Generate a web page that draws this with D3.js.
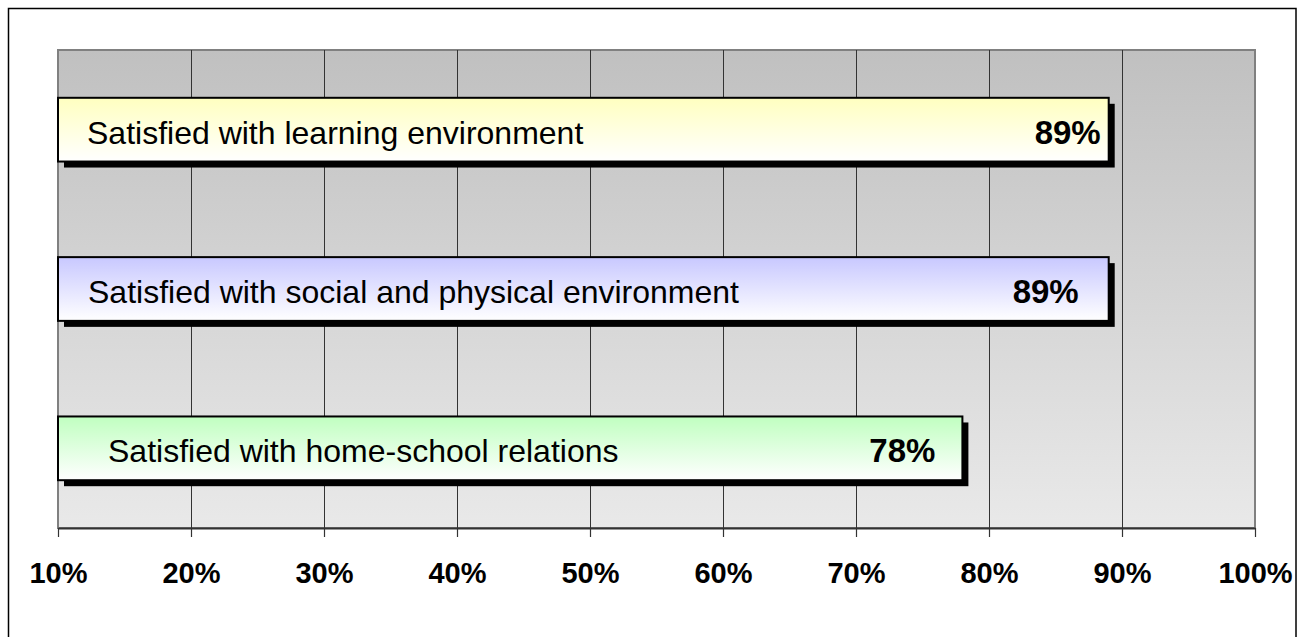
<!DOCTYPE html>
<html>
<head>
<meta charset="utf-8">
<script src="https://cdn.jsdelivr.net/npm/d3@7"></script>
<style>
  html, body { margin: 0; padding: 0; background: #fff; }
  svg { display: block; font-family: "Liberation Sans", Arial, sans-serif; }
</style>
</head>
<body>
<svg id="chart" width="1301" height="637"></svg>
<script>
// Survey results: share of respondents satisfied in each area
const categories = [
  "Satisfied with learning environment",
  "Satisfied with social and physical environment",
  "Satisfied with home-school relations"
];
const values = [0.89, 0.89, 0.78];
const tickValues = [0.1, 0.2, 0.3, 0.4, 0.5, 0.6, 0.7, 0.8, 0.9, 1.0];

// Text-box placement inside each bar (left inset of name, right inset of value)
const nameInset = [29, 30, 50];
const valueInset = [8, 30, 27];
const barColors = ["#ffffc0", "#c8c8ff", "#c0ffc0"];

const svg = d3.select("#chart");
const W = 1301, H = 637;
const plot = { left: 58, right: 1255, top: 50, bottom: 528 };

// chart frame
svg.append("rect")
  .attr("x", 8.5).attr("y", 8.5)
  .attr("width", 1296 - 8.5).attr("height", H + 10)
  .attr("fill", "#fff").attr("stroke", "#000").attr("stroke-width", 1.5);

const defs = svg.append("defs");
const bg = defs.append("linearGradient").attr("id", "plotBg")
  .attr("x1", 0).attr("y1", 0).attr("x2", 0).attr("y2", 1);
bg.append("stop").attr("offset", "0%").attr("stop-color", "#c0c0c0");
bg.append("stop").attr("offset", "100%").attr("stop-color", "#e9e9e9");

barColors.forEach((c, i) => {
  const g = defs.append("linearGradient").attr("id", "barFill" + i)
    .attr("x1", 0).attr("y1", 0).attr("x2", 0).attr("y2", 1);
  g.append("stop").attr("offset", "0%").attr("stop-color", c);
  g.append("stop").attr("offset", "100%").attr("stop-color", "#ffffff");
});

const x = d3.scaleLinear().domain([0.1, 1.0]).range([plot.left, plot.right]);
const y = d3.scaleBand().domain(categories)
  .range([plot.top, plot.bottom])
  .paddingInner(0.6).paddingOuter(0.3);

// plot area
svg.append("rect")
  .attr("x", plot.left).attr("y", plot.top)
  .attr("width", plot.right - plot.left).attr("height", plot.bottom - plot.top)
  .attr("fill", "url(#plotBg)")
  .attr("stroke", "#808080").attr("stroke-width", 2);

// vertical gridlines
svg.append("g").selectAll("line")
  .data(tickValues.slice(1, -1))
  .join("line")
  .attr("x1", d => Math.round(x(d)) + 0.5).attr("x2", d => Math.round(x(d)) + 0.5)
  .attr("y1", plot.top).attr("y2", plot.bottom)
  .attr("stroke", "#333").attr("stroke-width", 1);

// x axis
const axis = svg.append("g")
  .attr("transform", `translate(0,${plot.bottom})`)
  .call(d3.axisBottom(x).tickValues(tickValues).tickFormat(d3.format(".0%"))
    .tickSize(9).tickSizeOuter(0).tickPadding(22));
axis.select(".domain").attr("stroke", "#333").attr("stroke-width", 2);
axis.selectAll(".tick line").attr("stroke", "#333").attr("stroke-width", 1.2);
axis.selectAll(".tick text")
  .attr("fill", "#000")
  .attr("font-family", "'Liberation Sans', Arial, sans-serif")
  .attr("font-size", 29).attr("font-weight", "bold")
  .attr("dy", null).attr("y", 55);

// bars
const rows = categories.map((c, i) => ({ c, v: values[i], i }));
const bars = svg.append("g").selectAll("g").data(rows).join("g");

bars.append("rect")
  .attr("x", x(0.1) + 6).attr("y", d => y(d.c) + 6)
  .attr("width", d => x(d.v) - x(0.1)).attr("height", y.bandwidth())
  .attr("fill", "#000");

bars.append("rect")
  .attr("x", x(0.1)).attr("y", d => y(d.c))
  .attr("width", d => x(d.v) - x(0.1)).attr("height", y.bandwidth())
  .attr("fill", d => `url(#barFill${d.i})`)
  .attr("stroke", "#000").attr("stroke-width", 2);

bars.append("text")
  .attr("x", d => x(0.1) + nameInset[d.i])
  .attr("y", d => y(d.c) + y.bandwidth() / 2 + 14)
  .attr("font-size", 32)
  .attr("fill", "#000")
  .text(d => d.c);

bars.append("text")
  .attr("x", d => x(d.v) - valueInset[d.i])
  .attr("y", d => y(d.c) + y.bandwidth() / 2 + 14)
  .attr("text-anchor", "end")
  .attr("font-size", 33).attr("font-weight", "bold")
  .attr("fill", "#000")
  .text(d => d3.format(".0%")(d.v));
</script>
</body>
</html>
